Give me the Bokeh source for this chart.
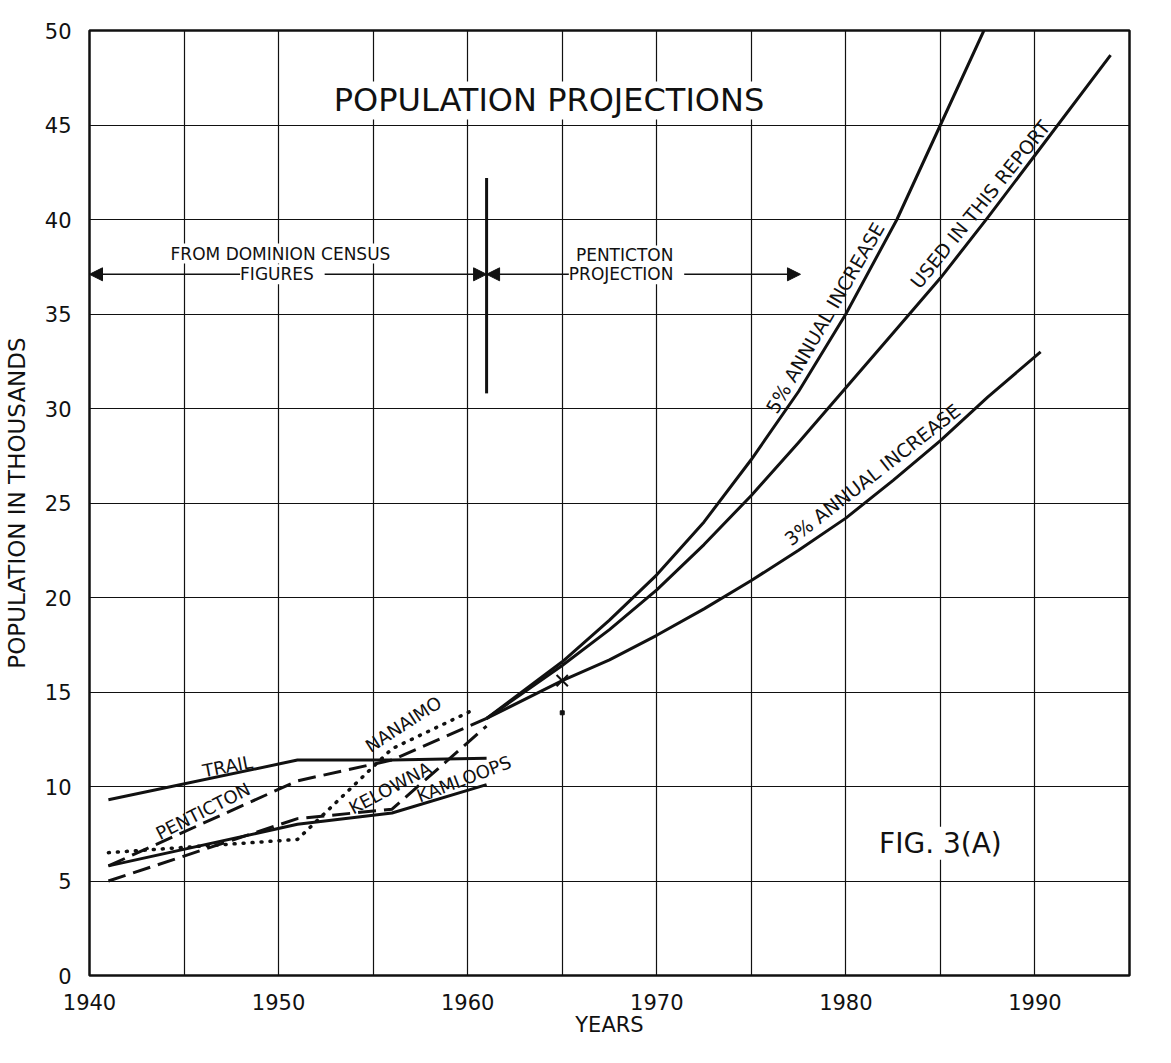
from bokeh.plotting import figure
from bokeh.models import FixedTicker, Label, Arrow, NormalHead, Range1d
from bokeh.embed import file_html
from bokeh.resources import INLINE

# ---- data ----
census_years = [1941, 1951, 1956, 1961]
trail = [9.3, 11.4, 11.4, 11.5]
penticton = [5.8, 10.3, 11.4, 13.6]
kelowna = [5.0, 8.3, 8.8, 13.2]
kamloops = [5.8, 8.0, 8.6, 10.1]
nanaimo_years = [1941, 1951, 1956, 1960.4]
nanaimo = [6.5, 7.2, 12.0, 14.1]

proj5_years = [1961, 1965, 1967.5, 1970, 1972.5, 1975, 1977.5, 1980, 1982.7, 1985, 1987.3]
proj5 = [13.6, 16.6, 18.8, 21.2, 24.0, 27.3, 30.9, 35.0, 40.0, 45.0, 50.0]
used_years = [1961, 1965, 1967.5, 1970, 1972.5, 1975, 1977.5, 1980, 1982.5, 1985, 1987.5, 1990, 1994]
used = [13.6, 16.4, 18.3, 20.4, 22.8, 25.4, 28.2, 31.1, 34.0, 36.9, 40.1, 43.4, 48.7]
proj3_years = [1961, 1965, 1967.5, 1970, 1972.5, 1975, 1977.5, 1980, 1982.5, 1985, 1987.5, 1990.3]
proj3 = [13.6, 15.6, 16.7, 18.0, 19.4, 20.9, 22.5, 24.2, 26.2, 28.3, 30.6, 33.0]

marker_year = [1965]
marker_value = [15.6]
dot_year = [1965]
dot_value = [13.9]

boundary_year = [1961, 1961]
boundary_span = [30.8, 42.2]
arrow_level = 37.1
arrow_end_year = 1977.6

x_tick_labels = [1940, 1950, 1960, 1970, 1980, 1990]
x_grid_years = [1940, 1945, 1950, 1955, 1960, 1965, 1970, 1975, 1980, 1985, 1990, 1995]
y_ticks = [0, 5, 10, 15, 20, 25, 30, 35, 40, 45, 50]

FONT = "DejaVu Sans"
INK = "#111111"

p = figure(frame_width=1040, frame_height=945,
           x_range=Range1d(1940, 1995), y_range=Range1d(0, 50),
           output_backend="svg", toolbar_location=None,
           min_border_left=84, min_border_right=22, min_border_top=30, min_border_bottom=60,
           background_fill_color="white", border_fill_color="white")

p.outline_line_color = INK
p.outline_line_width = 2.5

p.xaxis.ticker = FixedTicker(ticks=x_tick_labels)
p.yaxis.ticker = FixedTicker(ticks=y_ticks)
p.xgrid.ticker = FixedTicker(ticks=x_grid_years)
p.ygrid.ticker = FixedTicker(ticks=y_ticks)
for g in (p.xgrid, p.ygrid):
    g.grid_line_color = INK
    g.grid_line_width = 1.2
    g.grid_line_alpha = 1.0

for ax in (p.xaxis, p.yaxis):
    ax.axis_line_color = None
    ax.major_tick_line_color = None
    ax.minor_tick_line_color = None
    ax.major_label_text_font = FONT
    ax.major_label_text_font_size = "21px"
    ax.major_label_text_color = INK
    ax.axis_label_text_font = FONT
    ax.axis_label_text_font_style = "normal"
    ax.axis_label_text_color = INK

p.xaxis.major_label_standoff = 12
p.yaxis.major_label_standoff = 12
p.yaxis.axis_label = "POPULATION IN THOUSANDS"
p.yaxis.axis_label_text_font_size = "23px"
p.yaxis.axis_label_standoff = 12
p.xaxis.axis_label = "YEARS"
p.xaxis.axis_label_text_font_size = "21px"
p.xaxis.axis_label_standoff = 0

# ---- census lines ----
p.line(census_years, trail, line_color=INK, line_width=3)
p.line(census_years, kamloops, line_color=INK, line_width=3)
p.line(census_years, penticton, line_color=INK, line_width=3, line_dash="18 8")
p.line(census_years, kelowna, line_color=INK, line_width=3, line_dash="18 8")
p.line(nanaimo_years, nanaimo, line_color=INK, line_width=3.5, line_dash="1 8", line_cap="round")

# ---- projections ----
p.line(proj5_years, proj5, line_color=INK, line_width=3, line_join="round")
p.line(used_years, used, line_color=INK, line_width=3, line_join="round")
p.line(proj3_years, proj3, line_color=INK, line_width=3, line_join="round")

p.scatter(marker_year, marker_value, marker="x", size=16, line_width=2, line_color=INK)
p.scatter(dot_year, dot_value, marker="square", size=4, line_color=INK, fill_color=INK)

# boundary between census figures and projection
p.line(boundary_year, boundary_span, line_color=INK, line_width=3)

head = dict(size=13, fill_color=INK, line_color=INK)
p.add_layout(Arrow(start=NormalHead(**head), end=NormalHead(**head),
                   x_start=1940, y_start=arrow_level, x_end=boundary_year[0], y_end=arrow_level,
                   line_width=1.5, line_color=INK))
p.add_layout(Arrow(start=NormalHead(**head), end=NormalHead(**head),
                   x_start=boundary_year[0], y_start=arrow_level, x_end=arrow_end_year, y_end=arrow_level,
                   line_width=1.5, line_color=INK))


def lab(x, y, text, size, angle=0, bg=False):
    kw = dict(x=x, y=y, text=text, text_font=FONT, text_font_size=size,
              text_color=INK, text_align="center", text_baseline="middle",
              angle=angle, angle_units="deg")
    if bg:
        kw.update(background_fill_color="white", background_fill_alpha=1.0)
    p.add_layout(Label(**kw))


lab(1964.3, 46.3, "POPULATION PROJECTIONS", "32px", bg=True)
lab(1950.1, 38.2, "FROM DOMINION CENSUS", "17px", bg=True)
lab(1950.2, arrow_level, " FIGURES ", "17px", bg=True)
lab(1968.3, 38.1, "PENTICTON", "17px", bg=True)
lab(1968.4, arrow_level, " PROJECTION ", "17px", bg=True)
lab(1985.0, 7.0, "FIG. 3(A)", "28px", bg=True)

lab(1947.3, 11.07, "TRAIL", "18px", angle=11)
lab(1946.0, 8.7, "PENTICTON", "18px", angle=27)
lab(1956.6, 13.3, "NANAIMO", "18px", angle=33)
lab(1955.9, 9.93, "KELOWNA", "18px", angle=28)
lab(1959.8, 10.4, "KAMLOOPS", "18px", angle=21)
lab(1978.9, 34.8, "5% ANNUAL INCREASE", "19px", angle=60)
lab(1987.1, 40.8, "USED IN THIS REPORT", "19px", angle=51)
lab(1981.4, 26.5, "3% ANNUAL INCREASE", "19px", angle=38)

open("out.html", "w").write(file_html(p, INLINE))
